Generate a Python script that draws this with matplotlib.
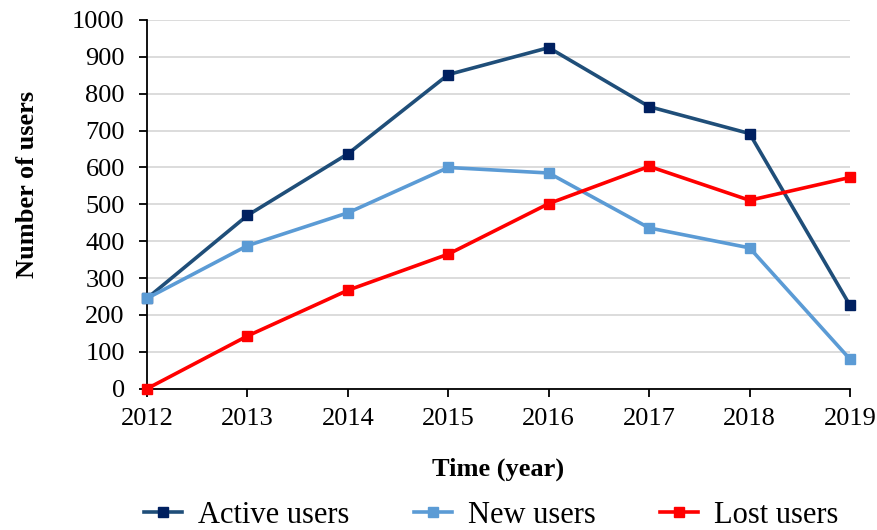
import matplotlib.pyplot as plt

# ------------------------------------------------------------------
# Data
# ------------------------------------------------------------------
years = [2012, 2013, 2014, 2015, 2016, 2017, 2018, 2019]
active_users = [245, 470, 637, 852, 925, 765, 692, 226]
new_users = [245, 388, 477, 600, 585, 436, 382, 80]
lost_users = [0, 143, 267, 365, 502, 603, 511, 573]

plt.rcParams["font.family"] = ["Liberation Serif", "DejaVu Serif"]

fig = plt.figure(figsize=(8.77, 5.3), dpi=100)
ax = fig.add_axes([147 / 877, 1 - 388.7 / 530, (850 - 147) / 877, (388.7 - 20) / 530])

ax.plot(years, active_users, color="#1F4E79", lw=2.6, marker="s", ms=6.5,
        mfc="#002060", mec="#002060", label="Active users", clip_on=False, zorder=3)
ax.plot(years, new_users, color="#5B9BD5", lw=2.6, marker="s", ms=6.5,
        label="New users", clip_on=False, zorder=3)
ax.plot(years, lost_users, color="#FF0000", lw=2.6, marker="s", ms=6.5,
        label="Lost users", clip_on=False, zorder=4)

ax.set_xlim(2012, 2019)
ax.set_ylim(0, 1000)
ax.set_yticks(range(0, 1001, 100))
ax.set_xticks(years)
ax.grid(axis="y", color="#D9D9D9", lw=1.3)
ax.set_axisbelow(True)

for side in ["top", "right"]:
    ax.spines[side].set_visible(False)
ax.spines["left"].set_linewidth(1.3)
ax.spines["bottom"].set_linewidth(1.3)
ax.tick_params(axis="both", labelsize=19, length=6, width=1.3, direction="out")
ax.tick_params(axis="x", pad=8)
ax.tick_params(axis="y", pad=10)

ax.set_xlabel("Time (year)", fontsize=19, fontweight="bold", labelpad=20)
ax.set_ylabel("Number of users", fontsize=19, fontweight="bold")
ax.yaxis.set_label_coords(-0.153, 0.553)

fig.legend(loc="center", bbox_to_anchor=(0.56, 0.027), ncol=3, frameon=False,
           fontsize=22, handlelength=1.25, columnspacing=2.1, handletextpad=0.52)

plt.savefig("out.png", dpi=100)
plt.close()
